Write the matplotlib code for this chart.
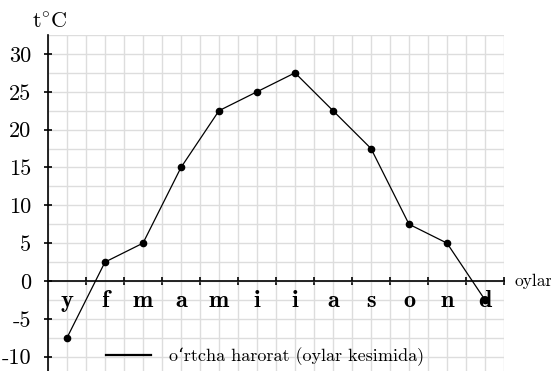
import matplotlib
matplotlib.use("Agg")
import matplotlib.pyplot as plt
from matplotlib.lines import Line2D
import numpy as np

plt.rcParams['font.family'] = ['cmr10', 'DejaVu Serif']
plt.rcParams['mathtext.fontset'] = 'cm'
plt.rcParams['axes.unicode_minus'] = False
plt.rcParams['axes.formatter.use_mathtext'] = False

months = ["y", "f", "m", "a", "m", "i", "i", "a", "s", "o", "n", "d"]
temps = [-7.5, 2.5, 5, 15, 22.5, 25, 27.5, 22.5, 17.5, 7.5, 5, -2.5]
y_ticks = [-10, -5, 0, 5, 10, 15, 20, 25, 30]
legend_label = "o‘rtcha harorat (oylar kesimida)"
y_label = r"$\mathrm{t}^{\circ}\mathrm{C}$"
x_label = "oylar"

fig = plt.figure(figsize=(5.51, 3.71), dpi=100)
ax = fig.add_axes([48/551, -4.6/371, 456/551, 340.6/371])

xpos = np.arange(len(months)) + 0.5
ax.set_xlim(0, 12)
ax.set_ylim(-12.5, 32.5)

ax.set_xticks(np.arange(1, 13))
ax.set_xticks(np.arange(0, 12.01, 0.5), minor=True)
ax.set_xticklabels([])
ax.set_yticks(y_ticks)
ax.set_yticks(np.arange(-12.5, 32.51, 2.5), minor=True)
ax.grid(True, which='both', color='#dddddd', lw=1.0)
ax.set_axisbelow(True)
ax.tick_params(axis='both', which='minor', length=0)
ax.tick_params(axis='both', which='major', direction='inout', length=6, width=1.2, color='black')
ax.tick_params(axis='y', labelsize=16, pad=9)

for s in ['top', 'right']:
    ax.spines[s].set_visible(False)
ax.spines['bottom'].set_position(('data', 0))
ax.spines['left'].set_position(('data', 0))
ax.spines['bottom'].set_linewidth(1.2)
ax.spines['left'].set_linewidth(1.2)

ax.plot(xpos, temps, color='black', lw=0.9, marker='o', ms=4.5, clip_on=False, zorder=3)

for x, m in zip(xpos, months):
    ax.text(x, -3.4, m, ha='center', va='baseline', fontsize=17.5,
            family=['cmb10', 'DejaVu Serif'], zorder=4)

ax.annotate(y_label, xy=(-16/456, 1.02), xycoords='axes fraction',
            ha='left', va='baseline', fontsize=16, annotation_clip=False)
ax.text(12.27, 0, x_label, ha='left', va='center', fontsize=12.5, clip_on=False)

handle = Line2D([], [], color='black', lw=1.6)
ax.legend([handle], [legend_label], loc='center left',
          bbox_to_anchor=((106-48)/456, 2.5/45), frameon=False,
          borderpad=0, borderaxespad=0, handlelength=2.5, handletextpad=1.0,
          fontsize=13)

fig.savefig("out.png", dpi=100)
